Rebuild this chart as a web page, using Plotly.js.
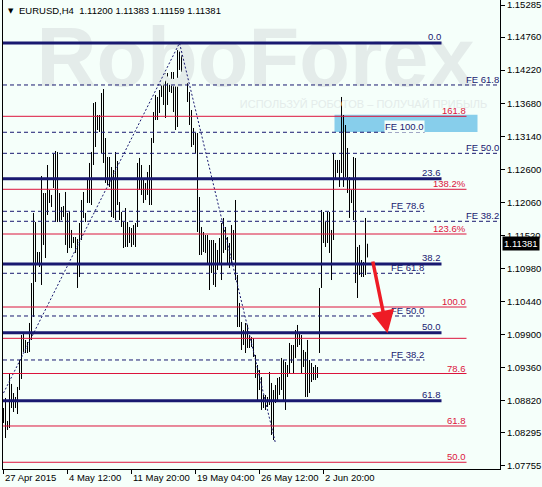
<!DOCTYPE html>
<html><head><meta charset="utf-8">
<script src="https://cdn.plot.ly/plotly-3.0.1.min.js"></script>
<style>html,body{margin:0;padding:0;background:#F5FFFA;}#chart{width:542px;height:487px;}</style>
</head><body><div id="chart"></div>
<script>
// ---- OHLC data (EURUSD H4), bar 0 = 27 Apr 2015 ----
const openP = [
1.08666,1.08584,1.08420,1.08453,1.09058,1.08829,1.08747,1.08829,1.09025,1.09401,
1.09728,1.09679,1.09728,1.09646,1.09973,1.10627,1.11608,1.11117,1.11150,1.11117,
1.12098,1.11526,1.12098,1.12180,1.12098,1.12343,1.12752,1.11935,1.11853,1.11935,
1.11902,1.11935,1.11608,1.11689,1.11444,1.11477,1.11444,1.11363,1.11281,1.11608,
1.11935,1.11853,1.12098,1.12343,1.12588,1.12752,1.13569,1.13406,1.13324,1.13406,
1.13733,1.12915,1.12588,1.12425,1.12507,1.12098,1.12425,1.12588,1.12049,1.11853,
1.11689,1.11526,1.11689,1.11444,1.11526,1.11444,1.11608,1.11689,1.12588,1.12425,
1.12261,1.12343,1.12261,1.12425,1.12180,1.13046,1.13487,1.13733,1.13569,1.13814,
1.14059,1.13814,1.14059,1.13929,1.13978,1.13896,1.13733,1.13978,1.14468,1.14386,
1.14305,1.14354,1.14190,1.13814,1.13487,1.13160,1.13079,1.13079,1.11771,1.11526,
1.11444,1.11363,1.11444,1.11199,1.11281,1.11117,1.11281,1.11117,1.11199,1.11363,
1.11608,1.11526,1.11363,1.11199,1.11363,1.11526,1.11444,1.10872,1.10300,1.10055,
1.09810,1.09891,1.09810,1.09842,1.09810,1.09761,1.09565,1.09319,1.09074,1.09156,
1.08829,1.08796,1.08829,1.08796,1.09074,1.08420,1.08911,1.08992,1.09074,1.09156,
1.09401,1.08992,1.09319,1.09352,1.09646,1.09565,1.09679,1.09891,1.09810,1.09842,
1.09401,1.09565,1.08992,1.09401,1.09238,1.09287,1.09238,1.09319,1.09646,1.10660,
1.11853,1.11444,1.11689,1.11771,1.11363,1.11444,1.12752,1.12556,1.12670,1.12588,
1.13438,1.12507,1.12915,1.12261,1.12098,1.12180,1.11853,1.11117,1.11199,1.11036,
1.10954,1.11036,1.11200];
const highP = [
1.08698,1.08862,1.08486,1.09270,1.09091,1.08943,1.08878,1.09042,1.09483,1.09891,
1.09908,1.09810,1.09777,1.10088,1.10741,1.11886,1.11738,1.11248,1.11248,1.12490,
1.12212,1.12212,1.12670,1.12261,1.12180,1.12850,1.12899,1.12883,1.12212,1.11984,
1.12000,1.12229,1.11886,1.11902,1.11608,1.11493,1.11493,1.11461,1.11722,1.12098,
1.12229,1.11886,1.12425,1.12703,1.12883,1.13683,1.13700,1.13487,1.13487,1.13847,
1.13912,1.13111,1.12801,1.12801,1.12637,1.12588,1.12883,1.12735,1.12065,1.11902,
1.11738,1.11967,1.11738,1.11657,1.11640,1.11689,1.11722,1.12703,1.12785,1.12670,
1.12425,1.12376,1.12556,1.12670,1.13111,1.13536,1.13814,1.13782,1.13896,1.14174,
1.14435,1.14174,1.14174,1.14059,1.14190,1.14190,1.14059,1.14582,1.14664,1.14468,
1.14386,1.14501,1.14256,1.13863,1.13569,1.13275,1.13193,1.13193,1.12147,1.11657,
1.11575,1.11526,1.11526,1.11444,1.11444,1.11444,1.11395,1.11281,1.11477,1.11722,
1.11804,1.11657,1.11493,1.11395,1.11689,1.11608,1.12098,1.10872,1.10415,1.10104,
1.09973,1.10088,1.10055,1.09891,1.09859,1.09842,1.09565,1.09401,1.09319,1.09205,
1.08911,1.08911,1.08878,1.09287,1.09107,1.08992,1.09074,1.09189,1.09205,1.09516,
1.09483,1.09450,1.09401,1.09761,1.09728,1.09728,1.09973,1.10055,1.09941,1.09891,
1.09646,1.09614,1.09810,1.09483,1.09434,1.09368,1.09401,1.09368,1.10660,1.11935,
1.11902,1.11738,1.11902,1.11902,1.11608,1.12866,1.12752,1.12752,1.12752,1.13782,
1.13487,1.13324,1.12948,1.12474,1.12261,1.12801,1.12785,1.11330,1.11363,1.11117,
1.11085,1.11804,1.11383];
const lowP = [
1.08453,1.08208,1.08339,1.08371,1.08698,1.08633,1.08698,1.08600,1.08992,1.09172,
1.09614,1.09597,1.09597,1.09614,1.09810,1.10186,1.10758,1.11036,1.11003,1.10709,
1.11363,1.11150,1.11853,1.12049,1.11984,1.12294,1.11738,1.11738,1.11738,1.11771,
1.11820,1.11363,1.11232,1.11313,1.11313,1.11395,1.11232,1.10660,1.10839,1.11444,
1.11804,1.11738,1.12049,1.12049,1.12016,1.12670,1.12964,1.13242,1.13210,1.12866,
1.12703,1.12376,1.12343,1.12311,1.11820,1.11804,1.11771,1.12016,1.11771,1.11657,
1.11313,1.11330,1.11330,1.11395,1.11330,1.11363,1.11330,1.11657,1.12261,1.12180,
1.12049,1.12098,1.12180,1.12016,1.12016,1.13030,1.13406,1.13406,1.13520,1.13782,
1.13651,1.13438,1.13651,1.13863,1.13847,1.13536,1.13242,1.13291,1.14223,1.14190,
1.14174,1.14108,1.13700,1.13324,1.12964,1.12997,1.12866,1.11575,1.11199,1.11199,
1.11248,1.11232,1.11068,1.10627,1.10905,1.10709,1.10676,1.10954,1.11068,1.10790,
1.11232,1.11281,1.11068,1.10987,1.11068,1.11117,1.10790,1.10022,1.10022,1.09646,
1.09728,1.09597,1.09679,1.09679,1.09695,1.09532,1.09189,1.08829,1.08992,1.08666,
1.08698,1.08666,1.08715,1.08747,1.08257,1.08175,1.08780,1.08829,1.08911,1.08992,
1.08829,1.08666,1.09205,1.09270,1.09434,1.09270,1.09516,1.09695,1.09728,1.09270,
1.09368,1.08878,1.08878,1.08943,1.09123,1.09156,1.09156,1.09189,1.09597,1.10660,
1.11395,1.11330,1.11395,1.11232,1.10790,1.11444,1.12425,1.12539,1.12311,1.12539,
1.12311,1.12474,1.12212,1.11804,1.12049,1.11771,1.10741,1.10496,1.10872,1.10839,
1.10839,1.10872,1.11159];
const closeP = [
1.08584,1.08420,1.08453,1.09074,1.08829,1.08747,1.08829,1.09025,1.09401,1.09728,
1.09679,1.09728,1.09646,1.09973,1.10627,1.11608,1.11117,1.11150,1.11117,1.12098,
1.11526,1.12098,1.12180,1.12098,1.12131,1.12752,1.11935,1.11853,1.11935,1.11902,
1.11935,1.11608,1.11689,1.11444,1.11477,1.11444,1.11363,1.11281,1.11608,1.11935,
1.11853,1.11869,1.12343,1.12588,1.12752,1.13569,1.13406,1.13324,1.13406,1.13733,
1.12915,1.12588,1.12425,1.12507,1.12098,1.12425,1.12588,1.12049,1.11853,1.11689,
1.11526,1.11689,1.11444,1.11526,1.11444,1.11608,1.11640,1.12588,1.12425,1.12261,
1.12343,1.12261,1.12425,1.12180,1.13046,1.13487,1.13733,1.13569,1.13814,1.14059,
1.13814,1.14059,1.13929,1.13978,1.13896,1.13733,1.13978,1.14468,1.14386,1.14305,
1.14354,1.14190,1.13814,1.13487,1.13160,1.13079,1.13079,1.11771,1.11526,1.11444,
1.11363,1.11444,1.11199,1.11281,1.11117,1.11281,1.11117,1.11199,1.11363,1.11608,
1.11526,1.11363,1.11199,1.11363,1.11526,1.11444,1.10872,1.10300,1.10055,1.09810,
1.09891,1.09810,1.09842,1.09810,1.09761,1.09565,1.09319,1.09074,1.09156,1.08829,
1.08796,1.08829,1.08796,1.09074,1.08420,1.08911,1.08992,1.09074,1.09156,1.09401,
1.08992,1.09319,1.09352,1.09646,1.09565,1.09679,1.09891,1.09810,1.09842,1.09401,
1.09565,1.08992,1.09401,1.09238,1.09287,1.09238,1.09319,1.09287,1.10594,1.11853,
1.11444,1.11689,1.11771,1.11363,1.11444,1.12752,1.12507,1.12670,1.12425,1.13569,
1.12425,1.13079,1.12261,1.12098,1.12180,1.11853,1.11117,1.11199,1.11036,1.10954,
1.11036,1.11199,1.11381];
const barIndex = openP.map((_, i) => i);

// ---- axis ticks ----
const xTickBars   = [0, 32, 64, 96, 128, 160];
const xTickLabels = ['27 Apr 2015','4 May 12:00','11 May 20:00','19 May 04:00','26 May 12:00','2 Jun 20:00'];
const yTickVals   = [1.07755,1.08295,1.08820,1.09360,1.09900,1.10440,1.10980,1.11520,1.12060,1.12600,1.13140,1.13680,1.14220,1.14760,1.15285];
const yTickLabels = ['1.07755','1.08295','1.08820','1.09360','1.09900','1.10440','1.10980','1.11520','1.12060','1.12600','1.13140','1.13680','1.14220','1.14760','1.15285'];

// ---- Fibonacci retracement levels (thick navy) ----
const fibLevels = [1.14664, 1.12446, 1.11052, 1.09929, 1.08818];
const fibLabels = ['0.0', '23.6', '38.2', '50.0', '61.8'];
// ---- Fibonacci expansion levels (red) ----
const expLevels = [1.13466, 1.12273, 1.11542, 1.10349, 1.09837, 1.09262, 1.08404, 1.07811];
const expLabels = ['161.8', '138.2%', '123.6%', '100.0', '', '78.6', '61.8', '50.0'];
// ---- FE levels (dashed navy) ----
const feLevels = [1.13978, 1.13205, 1.12861, 1.11913, 1.11750, 1.10900, 1.10202, 1.09483];
const feLabels = ['FE 61.8', 'FE 100.0', 'FE 50.0', 'FE 78.6', 'FE 38.2', 'FE 61.8', 'FE 50.0', 'FE 38.2'];
const feLong   = [true, false, true, false, true, false, false, false];
// ---- zigzag swing points (dotted) ----
const zigBars   = [0, 88, 136];
const zigPrices = [1.08943, 1.14664, 1.08120];
// ---- target zone and forecast arrow ----
const zoneBars   = [165.5, 237];
const zonePrices = [1.13210, 1.13490];
const arrowBars   = [184.5, 192];
const arrowPrices = [1.11117, 1.09920];
const lastPrice = 1.11381;

const NAVY = '#191970', RED = '#dc143c', BG = '#F5FFFA';
const FONT = 'Liberation Sans, Arial, sans-serif';
const X0 = -0.25, X1 = 248.25;
const END_FIB = 219, END_EXP = 231.5, END_FE_SHORT = 210.5, END_FE_LONG = X1;

const shapes = [];
const annotations = [];

shapes.push({type:'rect', layer:'below', xref:'x', yref:'y', x0:zoneBars[0], x1:zoneBars[1],
  y0:zonePrices[0], y1:zonePrices[1], fillcolor:'#87CEEB', line:{width:0}});

expLevels.forEach((v, k) => {
  shapes.push({type:'line', xref:'x', yref:'y', x0:X0, x1:END_EXP, y0:v, y1:v, line:{color:RED, width:1}});
  if (expLabels[k]) annotations.push({xref:'x', yref:'y', x:END_EXP, y:v, xanchor:'right', yanchor:'bottom',
    text:expLabels[k], showarrow:false, font:{family:FONT, size:9.5, color:RED}, borderpad:0, yshift:-1});
});
feLevels.forEach((v, k) => {
  const end = feLong[k] ? END_FE_LONG : END_FE_SHORT;
  shapes.push({type:'line', xref:'x', yref:'y', x0:X0, x1:end, y0:v, y1:v, line:{color:NAVY, width:1, dash:'4px,3px'}});
  annotations.push({xref:'x', yref:'y', x:end, y:v, xanchor:'right', yanchor:'bottom',
    text:feLabels[k], showarrow:false, font:{family:FONT, size:9.5, color:NAVY}, borderpad:0, yshift:-1,
    bgcolor: feLabels[k] === 'FE 100.0' ? BG : 'rgba(0,0,0,0)'});
});
fibLevels.forEach((v, k) => {
  shapes.push({type:'line', xref:'x', yref:'y', x0:X0, x1:END_FIB, y0:v, y1:v, line:{color:NAVY, width:3}});
  annotations.push({xref:'x', yref:'y', x:END_FIB, y:v, xanchor:'right', yanchor:'bottom',
    text:fibLabels[k], showarrow:false, font:{family:FONT, size:9.5, color:NAVY}, borderpad:0, yshift:0});
});

// x-axis labels start just right of their tick, as in the terminal
xTickBars.forEach((b, k) => {
  annotations.push({xref:'x', yref:'paper', x:b, y:0, xanchor:'left', yanchor:'top', xshift:0, yshift:-2,
    text:xTickLabels[k], showarrow:false, font:{family:FONT, size:9.5, color:'#000'}, borderpad:0});
});

annotations.push({xref:'x', yref:'y', axref:'x', ayref:'y', x:arrowBars[1], y:arrowPrices[1],
  ax:arrowBars[0], ay:arrowPrices[0], showarrow:true, arrowhead:2, arrowsize:1.3, arrowwidth:3.5,
  arrowcolor:'#ee1c25', text:''});

annotations.push({xref:'paper', yref:'y', x:1, y:lastPrice, xanchor:'left', yanchor:'middle', xshift:2,
  text:'1.11381', showarrow:false, bgcolor:'#000000', borderpad:1, font:{family:FONT, size:9.5, color:'#ffffff'}});

annotations.push({xref:'paper', yref:'paper', x:0, y:1, xanchor:'left', yanchor:'top', xshift:3, yshift:-5,
  text:'▼', showarrow:false, font:{family:'DejaVu Sans', size:7, color:'#000'}});
annotations.push({xref:'paper', yref:'paper', x:0, y:1, xanchor:'left', yanchor:'top', xshift:14, yshift:-3,
  text:'EURUSD,H4  1.11200 1.11383 1.11159 1.11381', showarrow:false, font:{family:FONT, size:9.5, color:'#000'}});

const traces = [
  {type:'scatter', mode:'text', x:[126], y:[1.14300], text:['<b>RoboForex</b>'], textposition:'middle center',
   textfont:{family:FONT, size:83, color:'#e4ecea'}, hoverinfo:'skip', showlegend:false, cliponaxis:false},
  {type:'scatter', mode:'text', x:[180], y:[1.13650], text:['ИСПОЛЬЗУЙ РОБОТОВ – ПОЛУЧАЙ ПРИБЫЛЬ'], textposition:'middle center',
   textfont:{family:FONT, size:11, color:'#e4ecea'}, hoverinfo:'skip', showlegend:false},
  {type:'scatter', mode:'lines', x:zigBars, y:zigPrices, line:{color:NAVY, width:1, dash:'2px,2px'},
   hoverinfo:'skip', showlegend:false},
  {type:'ohlc', x:barIndex, open:openP, high:highP, low:lowP, close:closeP, tickwidth:0,
   increasing:{line:{color:'#000', width:1}}, decreasing:{line:{color:'#000', width:1}},
   hoverinfo:'skip', showlegend:false}
];

const layout = {
  width:542, height:487, margin:{l:3, r:42, t:0, b:18},
  paper_bgcolor:BG, plot_bgcolor:BG, showlegend:false,
  font:{family:FONT, size:9.5, color:'#000'},
  xaxis:{range:[X0, X1], tickmode:'array', tickvals:xTickBars, showticklabels:false,
    ticks:'outside', ticklen:4, tickcolor:'#000', showline:true, linecolor:'#000', linewidth:1,
    showgrid:false, zeroline:false, rangeslider:{visible:false}, fixedrange:true},
  yaxis:{range:[1.07701, 1.15367], side:'right', tickmode:'array', tickvals:yTickVals, ticktext:yTickLabels,
    ticks:'outside', ticklen:4, tickcolor:'#000', showline:true, linecolor:'#000', linewidth:1, mirror:true,
    showgrid:false, zeroline:false, ticklabeloverflow:'allow', tickfont:{family:FONT, size:9.5, color:'#000'}, fixedrange:true},
  shapes:shapes, annotations:annotations
};
Plotly.newPlot('chart', traces, layout, {staticPlot:true, displayModeBar:false});
</script></body></html>
